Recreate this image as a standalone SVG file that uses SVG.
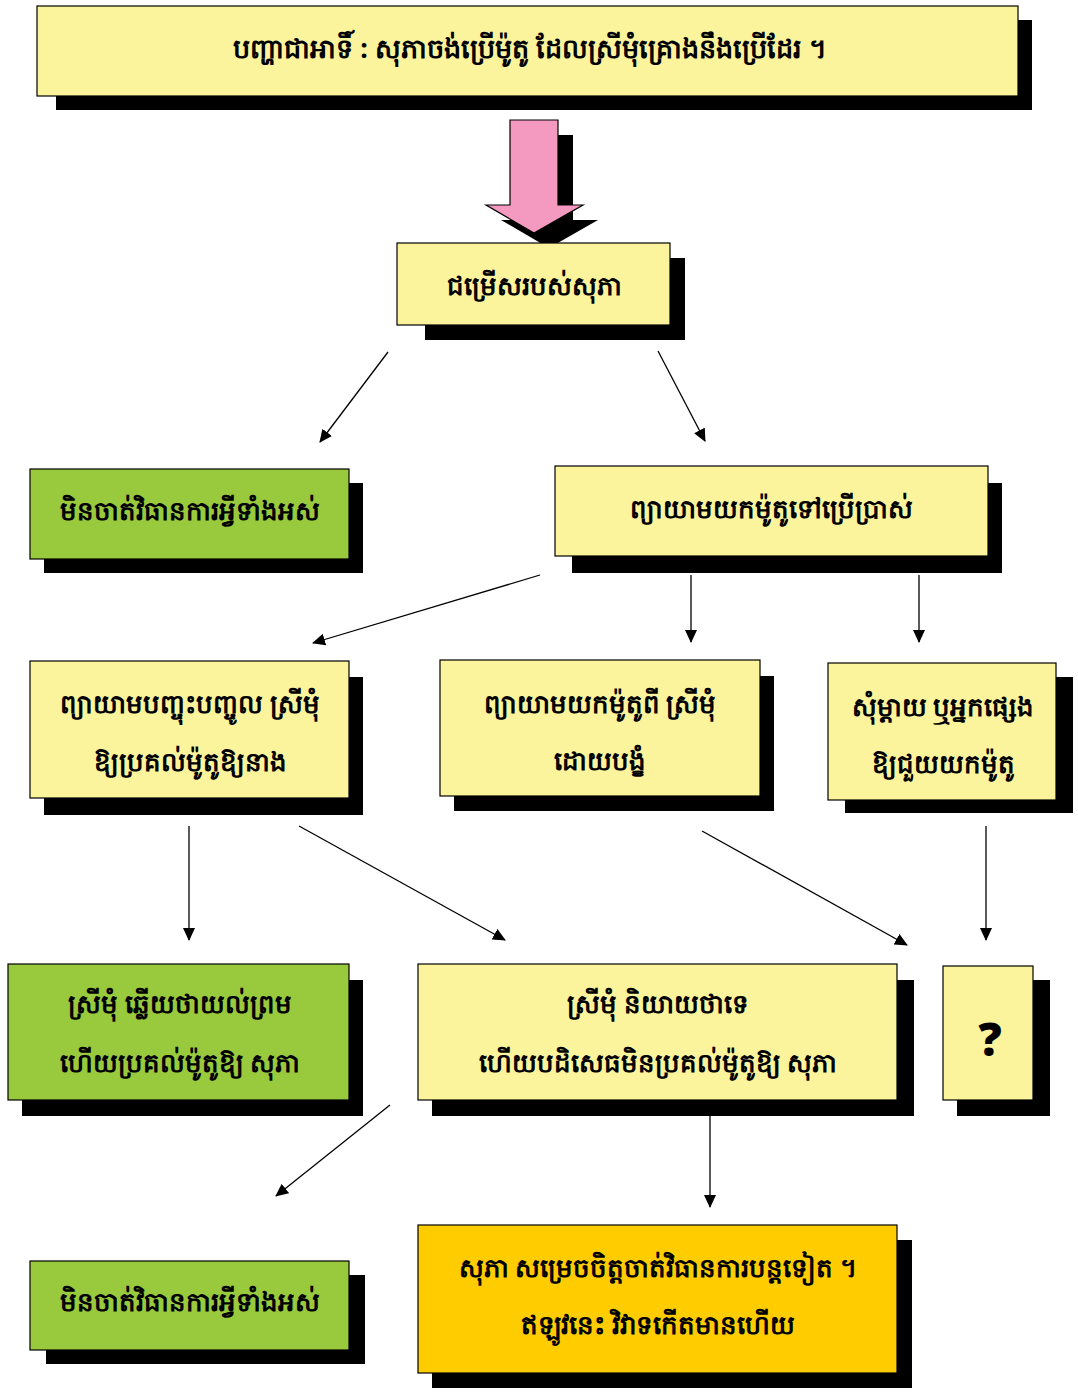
<svg xmlns="http://www.w3.org/2000/svg" width="1078" height="1392" viewBox="0 0 1078 1392">
<defs>
<marker id="ah" markerWidth="13" markerHeight="12" refX="12" refY="6" orient="auto" markerUnits="userSpaceOnUse" viewBox="0 0 13 12">
<path d="M0,0 L13,6 L0,12 z" fill="#000"/>
</marker>
<style>
.sh{fill:#000}
.y{fill:#FBF49C;stroke:#000;stroke-width:1.2}
.g{fill:#99C93C;stroke:#000;stroke-width:1.2}
.o{fill:#FFCC00;stroke:#000;stroke-width:1.2}
.t{font-family:"Noto Sans","DejaVu Sans",sans-serif;font-size:26px;font-weight:bold;fill:#000;text-anchor:middle;dominant-baseline:central}
.c{stroke:#000;stroke-width:1.3;fill:none;marker-end:url(#ah)}
</style>
</defs>
<rect width="1078" height="1392" fill="#fff"/>

<g id="title">
<rect class="sh" x="56" y="20" width="976" height="90"/>
<rect class="y" x="37" y="6" width="981" height="90"/>
<text class="t" x="530" y="47" style="font-size:27px">បញ្ហាជាអាទិ៍ : សុភាចង់ប្រើម៉ូតូ ដែលស្រីមុំគ្រោងនឹងប្រើដែរ ។</text>
</g>

<g id="bigarrow">
<path class="sh" d="M525,135 L573,135 L573,220 L598,220 L549,248 L501,220 L525,220 z"/>
<path d="M510,120 L558,120 L558,205 L583,205 L534,233 L486,205 L510,205 z" fill="#F49AC1" stroke="#000" stroke-width="1.2"/>
</g>

<g id="choices">
<rect class="sh" x="425" y="258" width="260" height="82"/>
<rect class="y" x="397" y="243" width="273" height="82"/>
<text class="t" x="534" y="285">ជម្រើសរបស់សុភា</text>
</g>

<g id="nothing1">
<rect class="sh" x="44" y="483" width="319" height="90"/>
<rect class="g" x="30" y="469" width="319" height="90"/>
<text class="t" x="190" y="510">មិនចាត់វិធានការអ្វីទាំងអស់</text>
</g>

<g id="tryuse">
<rect class="sh" x="572" y="483" width="430" height="90"/>
<rect class="y" x="555" y="466" width="433" height="90"/>
<text class="t" x="771" y="508">ព្យាយាមយកម៉ូតូទៅប្រើប្រាស់</text>
</g>

<g id="persuade">
<rect class="sh" x="44" y="677" width="319" height="138"/>
<rect class="y" x="30" y="661" width="319" height="137"/>
<text class="t" x="190" y="703">ព្យាយាមបញ្ចុះបញ្ចូល ស្រីមុំ</text>
<text class="t" x="190" y="761">ឱ្យប្រគល់ម៉ូតូឱ្យនាង</text>
</g>

<g id="force">
<rect class="sh" x="454" y="676" width="320" height="135"/>
<rect class="y" x="440" y="660" width="320" height="136"/>
<text class="t" x="600" y="703">ព្យាយាមយកម៉ូតូពី ស្រីមុំ</text>
<text class="t" x="600" y="760">ដោយបង្ខំ</text>
</g>

<g id="askmother">
<rect class="sh" x="845" y="677" width="228" height="136"/>
<rect class="y" x="828" y="663" width="228" height="137"/>
<text class="t" x="943" y="706">សុំម្ដាយ ឬអ្នកផ្សេង</text>
<text class="t" x="943" y="763">ឱ្យជួយយកម៉ូតូ</text>
</g>

<g id="agree">
<rect class="sh" x="22" y="980" width="341" height="136"/>
<rect class="g" x="8" y="964" width="341" height="136"/>
<text class="t" x="180" y="1003">ស្រីមុំ ឆ្លើយថាយល់ព្រម</text>
<text class="t" x="180" y="1062">ហើយប្រគល់ម៉ូតូឱ្យ សុភា</text>
</g>

<g id="refuse">
<rect class="sh" x="432" y="980" width="482" height="136"/>
<rect class="y" x="418" y="964" width="479" height="136"/>
<text class="t" x="658" y="1003">ស្រីមុំ និយាយថាទេ</text>
<text class="t" x="658" y="1062">ហើយបដិសេធមិនប្រគល់ម៉ូតូឱ្យ សុភា</text>
</g>

<g id="unknown">
<rect class="sh" x="957" y="980" width="93" height="136"/>
<rect class="y" x="943" y="966" width="90" height="134"/>
<text class="t" x="990" y="1038" style="font-size:46px;font-weight:900">?</text>
</g>

<g id="nothing2">
<rect class="sh" x="46" y="1275" width="319" height="89"/>
<rect class="g" x="30" y="1261" width="319" height="89"/>
<text class="t" x="190" y="1301">មិនចាត់វិធានការអ្វីទាំងអស់</text>
</g>

<g id="conflict">
<rect class="sh" x="432" y="1240" width="480" height="148"/>
<rect class="o" x="418" y="1225" width="479" height="148"/>
<text class="t" x="658" y="1267">សុភា សម្រេចចិត្តចាត់វិធានការបន្តទៀត ។</text>
<text class="t" x="658" y="1324">ឥឡូវនេះ វិវាទកើតមានហើយ</text>
</g>

<g id="connectors">
<line class="c" x1="388" y1="352" x2="320" y2="442"/>
<line class="c" x1="658" y1="351" x2="705" y2="441"/>
<line class="c" x1="540" y1="575" x2="313" y2="643"/>
<line class="c" x1="691" y1="575" x2="691" y2="642"/>
<line class="c" x1="919" y1="575" x2="919" y2="642"/>
<line class="c" x1="189" y1="826" x2="189" y2="940"/>
<line class="c" x1="299" y1="826" x2="505" y2="940"/>
<line class="c" x1="702" y1="831" x2="907" y2="945"/>
<line class="c" x1="986" y1="826" x2="986" y2="940"/>
<line class="c" x1="390" y1="1105" x2="276" y2="1196"/>
<line class="c" x1="710" y1="1115" x2="710" y2="1207"/>
</g>
</svg>
